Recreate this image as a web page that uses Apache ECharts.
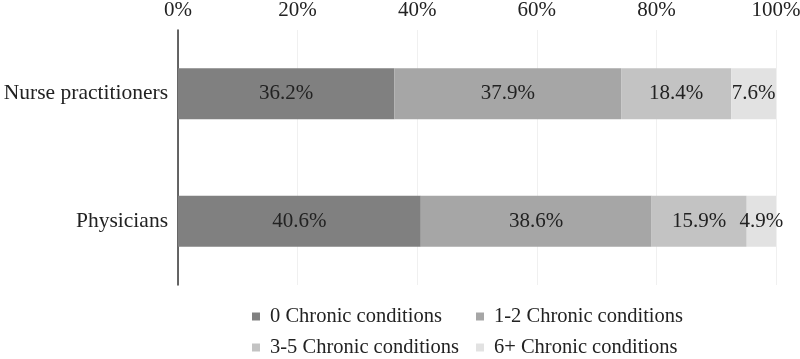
<!DOCTYPE html>
<html>
<head>
<meta charset="utf-8">
<script src="https://cdn.jsdelivr.net/npm/echarts@6/dist/echarts.min.js"></script>
<style>
  html, body { margin: 0; padding: 0; background: #fff; }
  #chart { width: 800px; height: 359px; }
</style>
</head>
<body>
<div id="chart"></div>
<script>
// 数据
var categories = ['Physicians', 'Nurse practitioners'];
var seriesNames = ['0 Chronic conditions', '1-2 Chronic conditions', '3-5 Chronic conditions', '6+ Chronic conditions'];
var none = [40.6, 36.2];
var oneTwo = [38.6, 37.9];
var threeFive = [15.9, 18.4];
var sixPlus = [4.9, 7.6];
var colors = ['#808080', '#a6a6a6', '#c3c3c3', '#e2e2e2'];

var font = 'Liberation Serif';
var chart = echarts.init(document.getElementById('chart'));

function makeSeries(name, data, color) {
  return {
    name: name,
    type: 'bar',
    stack: 'total',
    data: data,
    barWidth: '40%',
    itemStyle: { color: color },
    label: {
      show: true,
      position: 'inside',
      formatter: function (p) { return p.value.toFixed(1) + '%' },
      color: '#222',
      fontFamily: font,
      fontSize: 21
    }
  }
}

var option = {
  animation: false,
  textStyle: { fontFamily: font },
  grid: {
    top: 30,
    left: 178,
    right: 24,
    bottom: 74,
    outerBoundsMode: 'none'
  },
  legend: {
    data: seriesNames,
    left: 247,
    top: 301,
    width: 470,
    icon: 'rect',
    itemWidth: 8,
    itemHeight: 8,
    itemGap: 10,
    textStyle: {
      fontFamily: font,
      fontSize: 20.5,
      color: '#222',
      width: 196,
      lineHeight: 21,
      padding: [0, 0, 0, 5]
    }
  },
  xAxis: {
    type: 'value',
    position: 'top',
    min: 0,
    max: 100,
    interval: 20,
    axisLine: { show: false },
    axisTick: { show: false },
    splitLine: { show: true, lineStyle: { color: '#f0f0f0' } },
    axisLabel: {
      formatter: '{value}%',
      fontFamily: font,
      fontSize: 21,
      color: '#222',
      margin: 9
    }
  },
  yAxis: {
    type: 'category',
    data: categories,
    axisLine: { show: true, lineStyle: { color: '#333', width: 1.5 } },
    axisTick: { show: false },
    axisLabel: {
      fontFamily: font,
      fontSize: 21.5,
      color: '#222',
      margin: 10
    }
  },
  series: [
    makeSeries(seriesNames[0], none, colors[0]),
    makeSeries(seriesNames[1], oneTwo, colors[1]),
    makeSeries(seriesNames[2], threeFive, colors[2]),
    makeSeries(seriesNames[3], sixPlus, colors[3])
  ]
};

chart.setOption(option);
</script>
</body>
</html>
